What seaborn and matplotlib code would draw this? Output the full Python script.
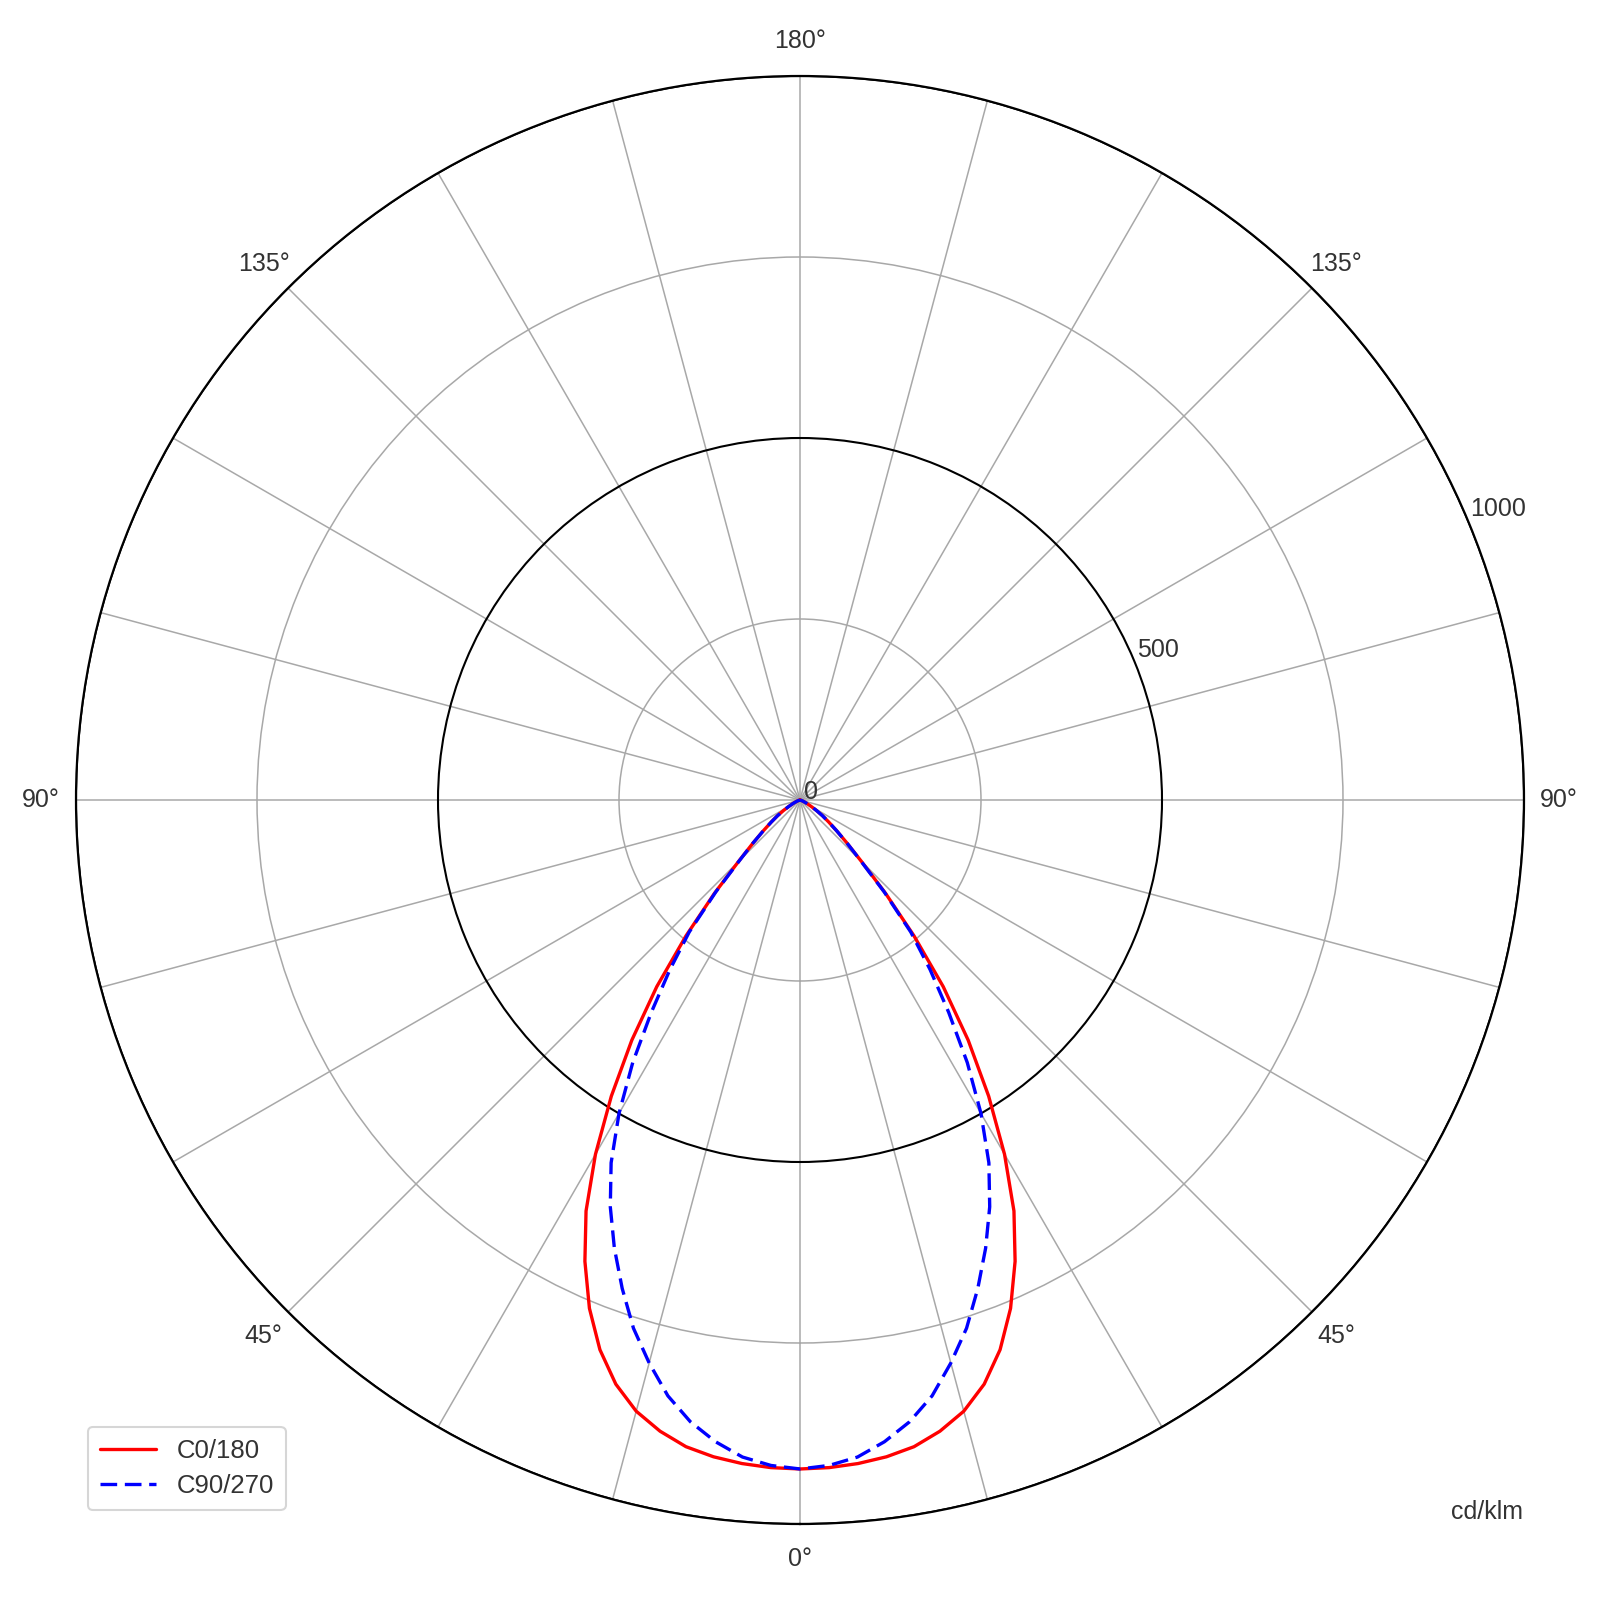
import numpy as np
import pandas as pd
import matplotlib
matplotlib.use("Agg")
import matplotlib.pyplot as plt
import seaborn as sns

# ---- data ----
gamma_deg = [0, 2.5, 5, 7.5, 10, 12.5, 15, 17.5, 20, 22.5, 25, 27.5, 30, 32.5, 35,
             37.5, 40, 42.5, 45, 47.5, 50, 52.5, 55, 57.5, 60, 62.5, 65, 67.5, 70,
             72.5, 75, 80, 85, 90]
c0_180 = [924, 923, 920, 915, 907, 893, 874, 846, 808, 760, 703, 640, 565, 485, 405,
          325, 245, 175, 120, 88, 66, 50, 38, 27, 18, 12, 8, 5, 3,
          1, 0, 0, 0, 0]
c90_270 = [924, 920, 911, 894, 872, 843, 805, 765, 718, 670, 620, 565, 500, 430, 358,
           295, 238, 172, 118, 88, 66, 50, 38, 27, 18, 12, 8, 5, 3,
           1, 0, 0, 0, 0]
series_names = ["C0/180", "C90/270"]
series_colors = ["red", "blue"]

r_ticks = [0, 250, 500, 750, 1000]
r_tick_labels = ["0", "", "500", "", "1000"]
major_rings = [500, 1000]
angle_ticks = list(range(0, 360, 15))
angle_tick_labels = {0: "0°", 45: "45°", 90: "90°", 135: "135°", 180: "180°",
                     225: "135°", 270: "90°", 315: "45°"}
unit_label = "cd/klm"

sns.set_theme(style="white")
plt.rcParams["font.family"] = ["Liberation Sans", "DejaVu Sans"]
text_color = "#333333"

rows = []
for name, vals in zip(series_names, [c0_180, c90_270]):
    for g, v in zip(gamma_deg, vals):
        rows.append((name, np.deg2rad(g), v))
        if g != 0:
            rows.append((name, np.deg2rad(-g), v))
df = pd.DataFrame(rows, columns=["series", "theta", "r"])

fig = plt.figure(figsize=(16, 16), dpi=100)
ax = fig.add_axes([76 / 1600, 76 / 1600, 1448 / 1600, 1448 / 1600], projection="polar")
ax.set_theta_zero_location("S")
ax.set_theta_direction(1)

sns.lineplot(data=df, x="theta", y="r", hue="series", style="series",
             hue_order=series_names, style_order=series_names,
             palette=dict(zip(series_names, series_colors)),
             dashes={series_names[0]: "", series_names[1]: (5, 2.3)},
             estimator=None, sort=True, linewidth=2.4, ax=ax, legend=True)

ax.set_ylim(0, 1000)
ax.set_xlabel("")
ax.set_ylabel("")

labels = [angle_tick_labels.get(a, "") for a in angle_ticks]
ax.set_thetagrids(angle_ticks, labels)
ax.tick_params(axis="x", pad=12, labelsize=18, labelcolor=text_color)

ax.set_rgrids(r_ticks[1:], labels=[""] * (len(r_ticks) - 1))
ax.set_rlabel_position(113)

ax.xaxis.grid(True, color="#a8a8a8", linewidth=1.1)
ax.yaxis.grid(True, color="#a8a8a8", linewidth=1.1)
for val, gl in zip(r_ticks[1:], ax.yaxis.get_gridlines()):
    if val in major_rings:
        gl.set_color("black")
        gl.set_linewidth(1.5)
ax.spines["polar"].set_color("black")
ax.spines["polar"].set_linewidth(1.6)

for val, lab in zip(r_ticks, r_tick_labels):
    if lab:
        ax.annotate(lab, xy=(np.deg2rad(113), val), xytext=(3, 6),
                    textcoords="offset points", ha="left", va="center",
                    fontsize=18, color=text_color)

leg = ax.legend(loc="lower left", bbox_to_anchor=(88 / 1600, 90 / 1600),
                bbox_transform=fig.transFigure, fontsize=18.5, frameon=True,
                fancybox=True, handlelength=2.2, handletextpad=0.8,
                labelspacing=0.45, borderpad=0.45, borderaxespad=0, title=None)
leg.get_frame().set_edgecolor("#cccccc")
leg.get_frame().set_linewidth(1.5)
for t in leg.get_texts():
    t.set_color(text_color)

fig.text(1523 / 1600, 1 - 1512 / 1600, unit_label, ha="right", va="center",
         fontsize=18, color=text_color)

fig.savefig("out.png", dpi=100, facecolor="white")
